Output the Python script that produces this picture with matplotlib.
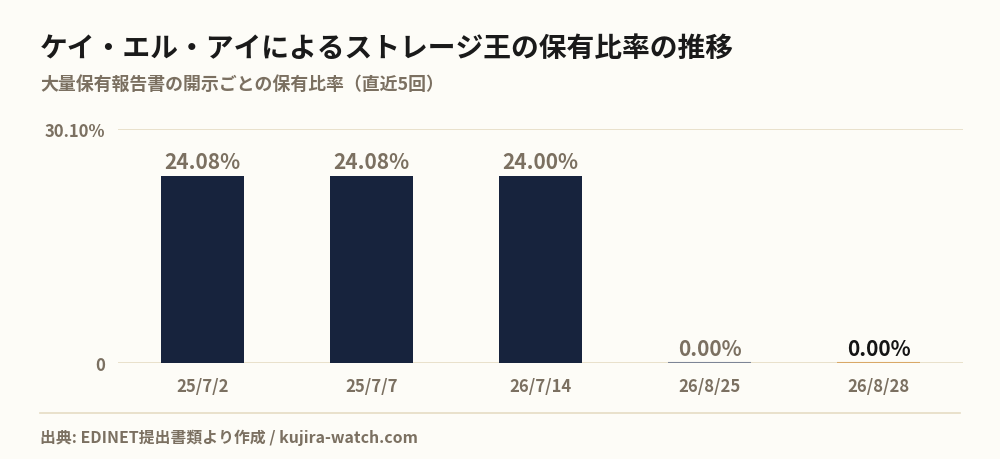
import matplotlib
matplotlib.use("Agg")
import matplotlib.pyplot as plt

plt.rcParams['font.family'] = ['Noto Sans CJK JP', 'DejaVu Sans']

dates = ["25/7/2", "25/7/7", "26/7/14", "26/8/25", "26/8/28"]
ratios = [24.08, 24.08, 24.00, 0.00, 0.00]
y_max = 30.10

BG = "#fdfcf7"
BAR = "#17233d"
MUTED = "#7b7061"
GRID = "#e6dcc4"

bar_colors = [BAR, BAR, BAR, "#7d8595", "#d9a867"]
label_colors = [MUTED, MUTED, MUTED, MUTED, "#141414"]

fig = plt.figure(figsize=(10, 4.6), dpi=100, facecolor=BG)
ax = fig.add_axes([0.118, 0.2087, 0.845, 0.5087], facecolor=BG)

x = range(len(dates))
ax.bar(x, ratios, width=0.49, color=BAR, zorder=3)
# zero-height bars show up as a thin coloured line
for i, v in enumerate(ratios):
    if v == 0:
        ax.plot([i - 0.245, i + 0.245], [0, 0], color=bar_colors[i], lw=1.5, zorder=4,
                solid_capstyle="butt")
    ax.annotate(f"{v:.2f}%", (i, v), xytext=(0, 3), textcoords="offset points",
                ha="center", va="bottom", fontsize=15, fontweight="bold",
                color=label_colors[i], zorder=5)

ax.set_xlim(-0.5, len(dates) - 0.5)
ax.set_ylim(0, y_max)
ax.set_yticks([0, y_max])
ax.set_yticklabels(["0", f"{y_max:.2f}%"])
ax.set_xticks(list(x))
ax.set_xticklabels(dates)
ax.tick_params(length=0, labelsize=12, labelcolor=MUTED)
ax.tick_params(axis="x", pad=10)
ax.tick_params(axis="y", pad=9)
for lab in ax.get_xticklabels() + ax.get_yticklabels():
    lab.set_fontweight("bold")
ax.grid(axis="y", color=GRID, lw=1.2, zorder=0)
for s in ax.spines.values():
    s.set_visible(False)

fig.text(0.04, 0.893, "ケイ・エル・アイによるストレージ王の保有比率の推移",
         fontsize=20, fontweight="bold", color="#1a1a1a", va="center")
fig.text(0.04, 0.815, "大量保有報告書の開示ごとの保有比率（直近5回）",
         fontsize=12.9, fontweight="bold", color=MUTED, va="center")

fig.add_artist(plt.Line2D([0.04, 0.96], [0.1, 0.1], color=GRID, lw=1.2,
                          transform=fig.transFigure))
fig.text(0.04, 0.048, "出典: EDINET提出書類より作成 / kujira-watch.com",
         fontsize=11.4, fontweight="bold", color=MUTED, va="center")

fig.savefig("out.png", dpi=100, facecolor=BG)
